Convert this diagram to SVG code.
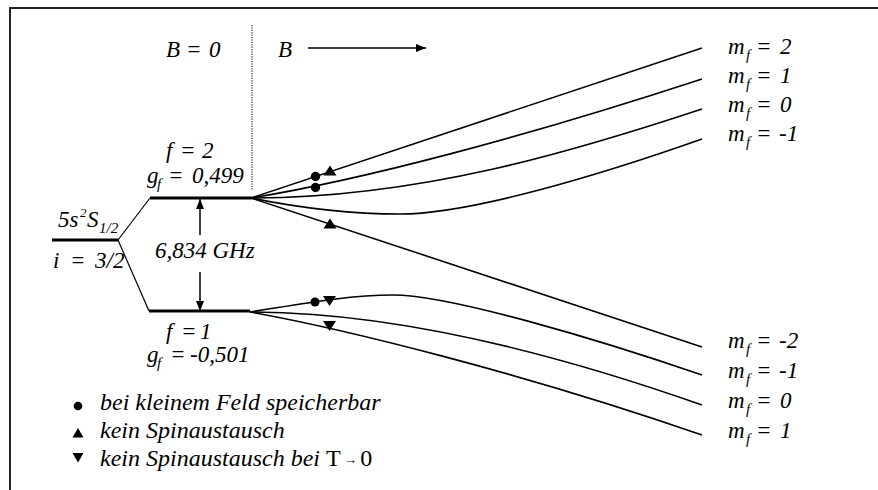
<svg xmlns="http://www.w3.org/2000/svg" width="878" height="490" viewBox="0 0 878 490">
<defs>
<style>
.t{font-family:"Liberation Serif","Times New Roman",serif;font-style:italic;font-size:23px;fill:#000}
.lg{font-size:24px}
.up{font-style:normal}
.sub{font-size:15px}
.lvl{stroke:#000;stroke-width:3;fill:none}
.thin{stroke:#000;stroke-width:1.2;fill:none}
.cv{stroke:#000;stroke-width:1.6;fill:none}
.mk{fill:#000}
</style>
<marker id="ah" viewBox="0 0 10 8" refX="10" refY="4" markerWidth="10" markerHeight="8" markerUnits="userSpaceOnUse" orient="auto">
<path d="M0,0 L10,4 L0,8 Z" fill="#000"/>
</marker>
</defs>
<rect x="10" y="8" width="900" height="520" fill="#fff" stroke="#222" stroke-width="2"/>

<g id="axis">
<line x1="252" y1="25" x2="252" y2="190" stroke="#000" stroke-width="1" stroke-dasharray="1.2,1.2"/>
<text class="t" x="166" y="57" font-size="24">B<tspan x="186">=</tspan><tspan x="209">0</tspan></text>
<text class="t" x="278" y="57" font-size="24">B</text>
<line x1="308" y1="48" x2="426" y2="48" stroke="#000" stroke-width="1.5" marker-end="url(#ah)"/>
</g>

<g id="ground">
<line class="lvl" x1="52" y1="240" x2="118" y2="240"/>
<text class="t" x="58" y="227">5s<tspan x="80" dy="-10" font-size="13">2</tspan><tspan x="87" dy="10">S</tspan><tspan x="99" dy="6" class="sub">1/2</tspan></text>
<text class="t" x="53" y="268">i<tspan x="70">=</tspan><tspan x="95">3/2</tspan></text>
</g>

<g id="f2">
<line class="lvl" x1="150" y1="198" x2="252" y2="198"/>
<text class="t" x="166" y="158">f<tspan x="180">=</tspan><tspan x="202">2</tspan></text>
<text class="t" x="147" y="183">g<tspan x="157" dy="6" class="sub">f</tspan><tspan x="168" dy="-6">=</tspan><tspan x="192">0,499</tspan></text>
</g>

<g id="f1">
<line class="lvl" x1="149" y1="311" x2="250" y2="311"/>
<text class="t" x="166" y="339">f<tspan x="181">=</tspan><tspan x="200">1</tspan></text>
<text class="t" x="147" y="362">g<tspan x="157" dy="6" class="sub">f</tspan><tspan x="170" dy="-6">=</tspan><tspan x="190">-0,501</tspan></text>
</g>

<g id="splitting">
<text class="t" x="155" y="258">6,834 GHz</text>
</g>

<g id="labels-f2">
<text class="t" x="728" y="54">m<tspan x="746" dy="6" class="sub">f</tspan><tspan x="756" dy="-6">=</tspan><tspan x="780">2</tspan></text>
<text class="t" x="728" y="83">m<tspan x="746" dy="6" class="sub">f</tspan><tspan x="756" dy="-6">=</tspan><tspan x="780">1</tspan></text>
<text class="t" x="728" y="112">m<tspan x="746" dy="6" class="sub">f</tspan><tspan x="756" dy="-6">=</tspan><tspan x="780">0</tspan></text>
<text class="t" x="728" y="141">m<tspan x="746" dy="6" class="sub">f</tspan><tspan x="756" dy="-6">=</tspan><tspan x="779">-1</tspan></text>
</g>
<g id="labels-f1">
<text class="t" x="728" y="348">m<tspan x="746" dy="6" class="sub">f</tspan><tspan x="756" dy="-6">=</tspan><tspan x="779">-2</tspan></text>
<text class="t" x="728" y="378">m<tspan x="746" dy="6" class="sub">f</tspan><tspan x="756" dy="-6">=</tspan><tspan x="779">-1</tspan></text>
<text class="t" x="728" y="408">m<tspan x="746" dy="6" class="sub">f</tspan><tspan x="756" dy="-6">=</tspan><tspan x="780">0</tspan></text>
<text class="t" x="728" y="438">m<tspan x="746" dy="6" class="sub">f</tspan><tspan x="756" dy="-6">=</tspan><tspan x="780">1</tspan></text>
</g>

<g id="connectors">
<line class="thin" x1="118" y1="240" x2="150" y2="198"/>
<line class="thin" x1="118" y1="240" x2="149" y2="311"/>
<line x1="200" y1="235" x2="200" y2="199" stroke="#000" stroke-width="1.5" marker-end="url(#ah)"/>
<line x1="200" y1="272" x2="200" y2="311" stroke="#000" stroke-width="1.5" marker-end="url(#ah)"/>
<path class="cv" d="M251,198 L702,48"/>
<path class="cv" d="M251,198 C361,180 522,138 702,79"/>
<path class="cv" d="M251,198 C420,198 575,151 702,109"/>
<path class="cv" d="M251,198 C300,208 350,214 400,214 C470,214 600,175 702,139"/>
<path class="cv" d="M251,198 L702,347"/>
<path class="cv" d="M250,312 C290,306 345,295 393,295 C450,295 600,340 702,375"/>
<path class="cv" d="M250,312 C400,312 560,355 702,405"/>
<path class="cv" d="M250,312 C340,328 520,372 702,435"/>
</g>

<g id="markers">
<circle class="mk" cx="315.5" cy="176.5" r="4.7"/>
<circle class="mk" cx="315.5" cy="187.5" r="4.7"/>
<circle class="mk" cx="315" cy="302" r="4.5"/>
<path class="mk" d="M330,165.5 L336.5,175.5 L323.5,175.5 Z"/>
<path class="mk" d="M330,218.5 L336.5,228.5 L323.5,228.5 Z"/>
<path class="mk" d="M323,296 L336,296 L329.5,306 Z"/>
<path class="mk" d="M323,321 L336,321 L329.5,331 Z"/>
</g>

<g id="legend">
<circle class="mk" cx="78" cy="406" r="4.3"/>
<text class="t lg" x="100" y="410">bei kleinem Feld speicherbar</text>
<path class="mk" d="M78,428 L83.5,437.5 L72.5,437.5 Z"/>
<text class="t lg" x="100" y="438">kein Spinaustausch</text>
<path class="mk" d="M72.5,453 L83.5,453 L78,462.5 Z"/>
<text class="t lg" x="100" y="466">kein Spinaustausch bei <tspan class="up">T</tspan><tspan class="up" font-size="13" dy="-2"> → </tspan><tspan class="up" dy="2">0</tspan></text>
</g>
</svg>
